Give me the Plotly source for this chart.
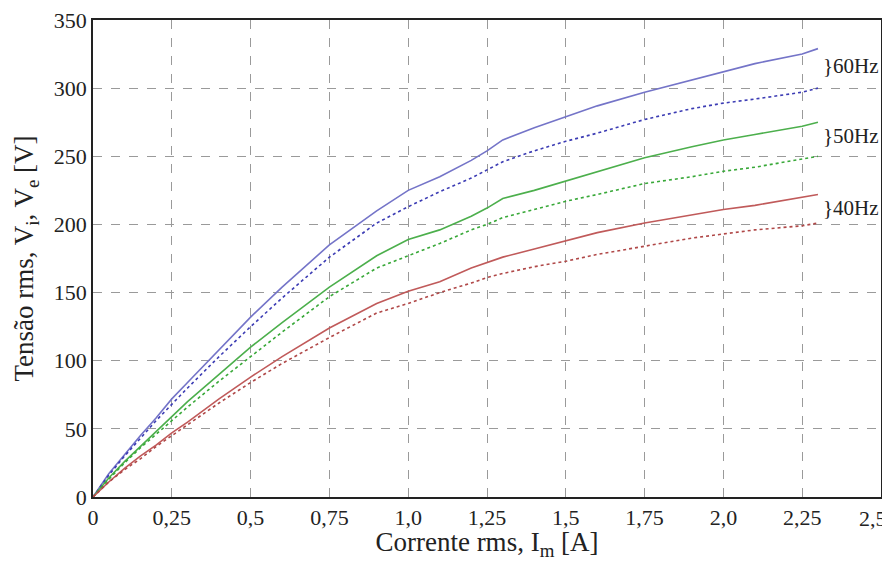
import plotly.graph_objects as go

current = [0, 0.05, 0.1, 0.15, 0.2, 0.25, 0.3, 0.4, 0.5, 0.6, 0.75, 0.9, 1.0, 1.1, 1.2, 1.25,
           1.3, 1.4, 1.5, 1.6, 1.75, 1.9, 2.0, 2.1, 2.25, 2.3]

vi_60 = [0, 17, 31, 45, 58, 72, 84, 108, 132, 154, 185, 210, 225, 235, 247, 254,
         262, 271, 279, 287, 297, 306, 312, 318, 325, 329]
ve_60 = [0, 16, 30, 43, 56, 68, 80, 103, 125, 146, 176, 201, 213, 224, 234, 240,
         246, 254, 261, 267, 277, 285, 289, 292, 297, 300]
vi_50 = [0, 14, 26, 37, 48, 59, 70, 90, 110, 128, 154, 177, 189, 196, 206, 212,
         219, 225, 232, 239, 249, 257, 262, 266, 272, 275]
ve_50 = [0, 13, 25, 36, 46, 56, 66, 85, 103, 121, 147, 168, 177, 186, 196, 200,
         205, 211, 217, 222, 230, 235, 239, 242, 248, 250]
vi_40 = [0, 11, 21, 30, 38, 47, 55, 72, 88, 103, 124, 142, 151, 158, 168, 172,
         176, 182, 188, 194, 201, 207, 211, 214, 220, 222]
ve_40 = [0, 11, 20, 28, 37, 45, 53, 69, 84, 98, 117, 135, 142, 150, 157, 161,
         164, 169, 173, 178, 184, 190, 193, 196, 199, 201]

x_tickvals = [0, 0.25, 0.5, 0.75, 1.0, 1.25, 1.5, 1.75, 2.0, 2.25, 2.5]
x_ticktext = ["0", "0,25", "0,5", "0,75", "1,0", "1,25", "1,5", "1,75", "2,0", "2,25", "2,5"]
y_tickvals = [0, 50, 100, 150, 200, 250, 300, 350]

labels = ["}60Hz", "}50Hz", "}40Hz"]
label_y = [316, 265, 212]

SERIF = "Liberation Serif"

fig = go.Figure()
series = [
    (vi_60, "#7474c8", "solid", 1.6),
    (ve_60, "#3c3cb4", "dot", 1.6),
    (vi_50, "#4caf4c", "solid", 1.6),
    (ve_50, "#38a838", "dot", 1.6),
    (vi_40, "#c05a5a", "solid", 1.6),
    (ve_40, "#b04848", "dot", 1.6),
]
for ys, col, dash, w in series:
    fig.add_trace(go.Scatter(x=current, y=ys, mode="lines",
                             line=dict(color=col, dash=dash, width=w),
                             showlegend=False))

for t, yv in zip(labels, label_y):
    fig.add_annotation(x=2.31, y=yv, text=t, showarrow=False, xanchor="left",
                       yanchor="middle", font=dict(family=SERIF, size=21, color="#222"))

# last x tick label drawn as annotation, nudged left so it stays inside the page
fig.add_annotation(x=x_tickvals[-1], y=0, yref="paper", text=x_ticktext[-1], showarrow=False,
                   xanchor="center", yanchor="middle", xshift=-8, yshift=-21,
                   font=dict(family=SERIF, size=22, color="#222"))

axis_common = dict(showline=True, linecolor="#222", linewidth=1.8, mirror=True,
                   showgrid=True, gridcolor="#9a9a9a", griddash="dash", gridwidth=1,
                   zeroline=False, ticks="", automargin=False,
                   ticklabeloverflow="allow",
                   tickfont=dict(family=SERIF, size=22, color="#222"))

fig.update_xaxes(range=[0, 2.5], tickvals=x_tickvals[:-1], ticktext=x_ticktext[:-1],
                 title=dict(text="Corrente rms, I<sub>m</sub> [A]",
                            font=dict(family=SERIF, size=27, color="#222"), standoff=7),
                 **axis_common)
fig.update_yaxes(range=[0, 350], tickvals=y_tickvals,
                 title=dict(text="Tensão rms, V<sub>i</sub>, V<sub>e</sub> [V]",
                            font=dict(family=SERIF, size=27, color="#222"), standoff=12),
                 **axis_common)

# page body has an 8px default margin, so the figure is offset to compensate
fig.update_layout(width=890, height=553,
                  margin=dict(l=85, r=17, t=12, b=64),
                  paper_bgcolor="white", plot_bgcolor="white",
                  font=dict(family=SERIF, color="#222"))

fig.write_html("out.html")
